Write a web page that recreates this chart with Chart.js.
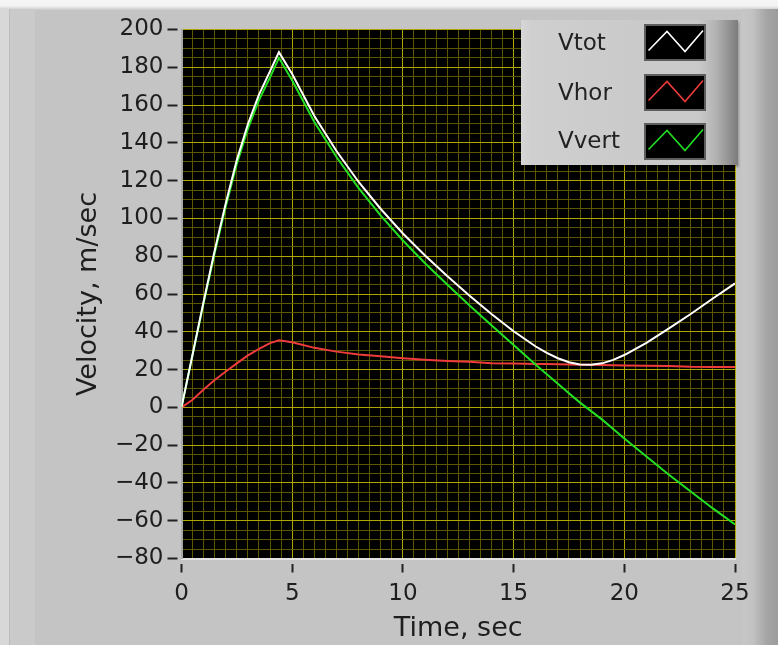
<!DOCTYPE html>
<html>
<head>
<meta charset="utf-8">
<script src="https://cdn.jsdelivr.net/npm/chart.js@4.4.1/dist/chart.umd.min.js"></script>
<style>
    html, body { margin: 0; padding: 0; }
    body {
        width: 778px; height: 645px; position: relative; overflow: hidden;
        background: #c4c4c4; font-family: "DejaVu Sans", sans-serif;
    }
    #topEdge { position: absolute; left: 0; top: 0; width: 778px; height: 10px;
        background: linear-gradient(#f6f6f6 0, #f2f2f2 6px, #c9c9c9 10px); }
    #leftEdge { position: absolute; left: 0; top: 9px; width: 9px; height: 636px;
        background: #d8d8d8; border-right: 1px solid #bcbcbc; }
    #leftPanel { position: absolute; left: 10px; top: 9px; width: 25px; height: 636px; background: #cacaca; }
    #rightEdge { position: absolute; left: 742px; top: 9px; width: 36px; height: 636px;
        background: linear-gradient(to right, #c7c7c7 0, #c2c2c2 30%, #a4a4a4 70%, #9c9c9c 100%); }
    #wrap { position: absolute; left: 0; top: 0; width: 778px; height: 645px; }
    #legend {
        position: absolute; left: 521px; top: 20px; width: 217px; height: 145px;
        background: linear-gradient(to right, #d6d6d6 0, #cfcfcf 5%, #cbcbcb 45%, #c9c9c9 82%, #b2b2b2 90%, #7c7c7c 100%);
        box-shadow: 1px 2px 2px rgba(0,0,0,0.25);
    }
    .lab { position: absolute; left: 37px; font-size: 23px; line-height: 23px; color: #222; }
    .sw { position: absolute; left: 123px; width: 62px; height: 37px; box-sizing: border-box;
        background: #000; border: 2px solid #5e5e5e; }
    .sw svg { position: absolute; left: 0; top: 0; }
</style>
</head>
<body>
<div id="topEdge"></div>
<div id="leftEdge"></div>
<div id="leftPanel"></div>
<div id="rightEdge"></div>
<div id="wrap"><canvas id="chart" width="778" height="645"></canvas></div>
<div id="legend"></div>
<script>
// time axis (sec) and the three velocity traces (m/sec)
const times = [0, 0.5, 1, 1.5, 2, 2.5, 3, 3.5, 4, 4.4,
    5, 6, 7, 8, 9, 10, 11, 12, 13, 14, 15, 16, 16.5, 17, 17.5, 18, 18.5, 19, 19.5,
    20, 21, 22, 23, 24, 25];
const vTot = [0, 28, 56, 83, 108, 131, 150, 165.5, 178, 188,
    176.4, 154.2, 135.7, 119.3, 105, 92, 80.4, 69.5, 59.2, 49.4, 40.3, 32.2, 28.8, 26, 23.9,
    22.7, 22.6, 23.3, 25.1, 27.7, 34.1, 41.7, 49.4, 57.6, 65.6];
const vHor = [0, 4, 9.5, 14.5, 19, 23.3, 27.5, 31, 34, 35.5,
    34.5, 31.5, 29.5, 28, 27, 26, 25.2, 24.6, 24.2, 23.4, 23.2, 23, 22.9, 22.8, 22.7,
    22.6, 22.5, 22.4, 22.3, 22.2, 22, 21.9, 21.5, 21.4, 21.3];
const vVert = [0, 27.7, 55.2, 81.7, 106.3, 128.9, 147.5, 162.6, 174.7, 185,
    173, 151, 132.5, 116, 101.5, 88.3, 76.3, 65, 54, 43.5, 33, 22.5, 17.5, 12.5, 7.5,
    2.5, -2, -6.5, -11.5, -16.5, -26, -35.5, -44.5, -53.5, -62];

const seriesNames = ["Vtot", "Vhor", "Vvert"];
const seriesColors = ["#ffffff", "#ee3b3b", "#22e022"];

const FONT = "DejaVu Sans";
const MAJOR = "rgb(176,166,0)";
const MINOR = "rgb(92,86,0)";

function isMulti(v, step) {
    return Math.abs(v / step - Math.round(v / step)) < 1e-6;
}

function toPoints(ys) {
    return times.map((t, i) => ({ x: t, y: ys[i] }));
}

// black plot background like the LabVIEW graph
const plotBg = {
    id: "plotBg",
    beforeDraw(chart) {
        const a = chart.chartArea;
        const ctx = chart.ctx;
        ctx.save();
        ctx.fillStyle = "#000";
        ctx.fillRect(a.left, a.top, a.right - a.left, a.bottom - a.top);
        ctx.restore();
    }
};

const ctx = document.getElementById("chart").getContext("2d");
const chart = new Chart(ctx, {
    type: "line",
    data: {
        datasets: [
            { label: seriesNames[0], data: toPoints(vTot), borderColor: seriesColors[0], order: 0 },
            { label: seriesNames[1], data: toPoints(vHor), borderColor: seriesColors[1], order: 2 },
            { label: seriesNames[2], data: toPoints(vVert), borderColor: seriesColors[2], order: 1 }
        ]
    },
    options: {
        responsive: false,
        animation: false,
        events: [],
        elements: {
            line: { borderWidth: 2, tension: 0 },
            point: { radius: 0 }
        },
        layout: { padding: { left: 69, right: 43, top: 29.5, bottom: 0 } },
        plugins: {
            legend: { display: false },
            tooltip: { enabled: false }
        },
        scales: {
            x: {
                type: "linear",
                min: 0,
                max: 25,
                ticks: {
                    stepSize: 0.5,
                    autoSkip: false,
                    maxRotation: 0,
                    minRotation: 0,
                    padding: 8,
                    color: "#1e1e1e",
                    font: { family: FONT, size: 23 },
                    callback: (v) => isMulti(v, 5) ? String(Math.round(v)) : ""
                },
                grid: {
                    color: (c) => isMulti(c.tick.value, 5) ? MAJOR : MINOR,
                    lineWidth: 1,
                    tickLength: 14,
                    tickWidth: 2,
                    tickColor: (c) => isMulti(c.tick.value, 5) ? "#222" : "rgba(0,0,0,0)",
                    tickBorderDash: [10, 4],
                    tickBorderDashOffset: 10
                },
                border: { color: "#e2e2e2", width: 2 },
                title: {
                    display: true,
                    text: "Time, sec",
                    color: "#1e1e1e",
                    font: { family: FONT, size: 27 },
                    padding: { top: 2, bottom: 0 }
                },
                afterFit: (s) => { s.height = 86.5; }
            },
            y: {
                type: "linear",
                min: -80,
                max: 200,
                ticks: {
                    stepSize: 5,
                    autoSkip: false,
                    padding: 4,
                    color: "#1e1e1e",
                    font: { family: FONT, size: 23 },
                    callback: (v) => {
                        if (!isMulti(v, 20)) return "";
                        const n = Math.round(v);
                        return n < 0 ? "\u2212" + Math.abs(n) : String(n);
                    }
                },
                grid: {
                    color: (c) => isMulti(c.tick.value, 20) ? MAJOR : MINOR,
                    lineWidth: 1,
                    tickLength: 14,
                    tickWidth: 2,
                    tickColor: (c) => isMulti(c.tick.value, 20) ? "#222" : "rgba(0,0,0,0)",
                    tickBorderDash: [10, 4]
                },
                border: { color: "#a8a8a8", width: 2 },
                title: {
                    display: true,
                    text: "Velocity, m/sec",
                    color: "#1e1e1e",
                    font: { family: FONT, size: 27 },
                    padding: { top: 4, bottom: 2 }
                },
                afterFit: (s) => { s.width = 112.5; }
            }
        }
    },
    plugins: [plotBg]
});

// LabVIEW style plot legend: name on the left, black swatch with a zigzag on the right
function buildLegend() {
    const box = document.getElementById("legend");
    const labTops = [10.5, 60.5, 108.5];
    const swTops = [4, 54, 103];
    chart.data.datasets.forEach((ds, i) => {
        const lab = document.createElement("div");
        lab.className = "lab";
        lab.style.top = labTops[i] + "px";
        lab.textContent = ds.label;
        box.appendChild(lab);

        const sw = document.createElement("div");
        sw.className = "sw";
        sw.style.top = swTops[i] + "px";
        sw.innerHTML = '<svg width="58" height="33" viewBox="0 0 58 33">' +
            '<polyline points="2.5,24.5 21,5.5 39,25.5 57,4.5" fill="none" stroke="' +
            ds.borderColor + '" stroke-width="1.6"/></svg>';
        box.appendChild(sw);
    });
}
buildLegend();
</script>
</body>
</html>
